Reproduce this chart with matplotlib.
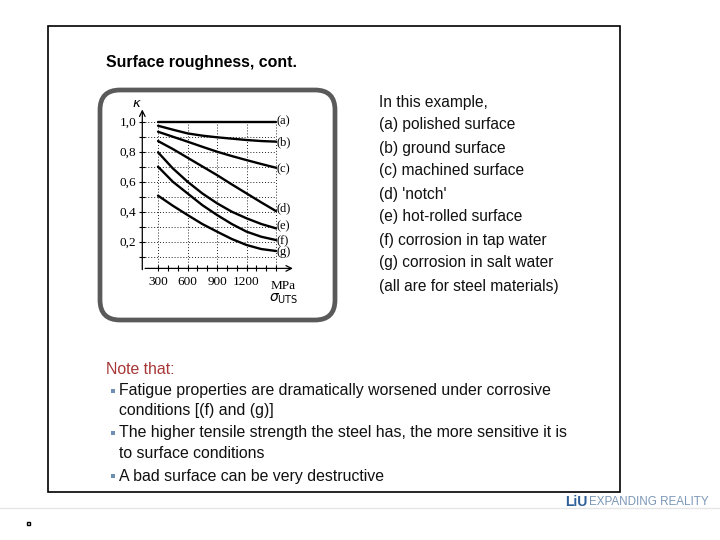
import matplotlib
matplotlib.use("Agg")
import matplotlib.pyplot as plt
from matplotlib.patches import FancyBboxPatch, Rectangle

# sigma_UTS (MPa) and surface factor
sigma = [300, 450, 600, 750, 900, 1050, 1200, 1350, 1500]
kappa_a = [1.0, 1.0, 1.0, 1.0, 1.0, 1.0, 1.0, 1.0, 1.0]
kappa_b = [0.973, 0.947, 0.922, 0.907, 0.896, 0.887, 0.878, 0.871, 0.867]
kappa_c = [0.933, 0.900, 0.867, 0.833, 0.800, 0.771, 0.744, 0.718, 0.693]
kappa_d = [0.871, 0.818, 0.760, 0.702, 0.644, 0.582, 0.522, 0.462, 0.404]
kappa_e = [0.796, 0.689, 0.600, 0.522, 0.456, 0.400, 0.356, 0.318, 0.289]
kappa_f = [0.700, 0.600, 0.522, 0.444, 0.378, 0.318, 0.267, 0.233, 0.211]
kappa_g = [0.507, 0.440, 0.378, 0.318, 0.267, 0.218, 0.178, 0.151, 0.138]
curve_labels = ["(a)", "(b)", "(c)", "(d)", "(e)", "(f)", "(g)"]
label_y = [1.0, 0.86, 0.68, 0.42, 0.30, 0.20, 0.13]

xticks = [300, 600, 900, 1200]
yticks = [0.2, 0.4, 0.6, 0.8, 1.0]
ytick_labels = ["0,2", "0,4", "0,6", "0,8", "1,0"]

legend_lines = ["In this example,", "(a) polished surface", "(b) ground surface",
                "(c) machined surface", "(d) 'notch'", "(e) hot-rolled surface",
                "(f) corrosion in tap water", "(g) corrosion in salt water",
                "(all are for steel materials)"]
note_lines = ["Fatigue properties are dramatically worsened under corrosive",
              "conditions [(f) and (g)]",
              "The higher tensile strength the steel has, the more sensitive it is",
              "to surface conditions",
              "A bad surface can be very destructive"]
note_bullet = [True, False, True, False, True]
note_y = [391, 410, 433, 453, 476]

plt.rcParams['font.family'] = ['Liberation Sans', 'DejaVu Sans']
fig = plt.figure(figsize=(7.2, 5.4), dpi=100)

# page layer in pixel coordinates
bg = fig.add_axes([0, 0, 1, 1])
bg.set_xlim(0, 720)
bg.set_ylim(540, 0)
bg.axis('off')

bg.add_patch(Rectangle((47.5, 26), 572.5, 466, fill=False, lw=1.2, ec='black'))
bg.plot([0, 720], [508, 508], color='#e6e6e6', lw=1)
bg.add_patch(Rectangle((26.5, 521.5), 3.5, 3.5, fill=False, lw=1, ec='black'))
bg.add_patch(FancyBboxPatch((100, 90), 235, 230, boxstyle="round,pad=0,rounding_size=20",
                            fill=False, lw=3.4, ec='#5a5a5a'))

bg.text(106, 62, "Surface roughness, cont.", fontsize=11.4, fontweight='bold',
        va='center', ha='left')
for i, s in enumerate(legend_lines):
    bg.text(379, 102 + 23 * i, s, fontsize=11.2, va='center', ha='left', color='#111111')

bg.text(106, 370, "Note that:", fontsize=11.4, va='center', ha='left', color='#a83838')
for s, b, y in zip(note_lines, note_bullet, note_y):
    if b:
        bg.add_patch(Rectangle((111, y - 1.8), 3.6, 3.6, color='#6f8fb0', lw=0))
    bg.text(119, y, s, fontsize=11.4, va='center', ha='left', color='#111111')

bg.text(565, 502, "LiU", fontsize=10, fontweight='bold', color='#2d5f98',
        va='center', ha='left')
bg.text(589, 502, "EXPANDING REALITY", fontsize=8.4, color='#7b97b8',
        va='center', ha='left')

# the chart
ax = fig.add_axes([142.3 / 720, 1 - 268.4 / 540, 153.4 / 720, 161.7 / 540])
ax.set_xlim(140, 1700)
ax.set_ylim(0.022, 1.1)
ax.patch.set_alpha(0)
for sp in ax.spines.values():
    sp.set_visible(False)

serif = ['Liberation Serif', 'DejaVu Serif']
y0 = 0.022
ax.annotate('', xy=(1700, y0), xytext=(140, y0),
            arrowprops=dict(arrowstyle='->', lw=0.9, color='black'), annotation_clip=False)
ax.annotate('', xy=(140, 1.1), xytext=(140, -0.005),
            arrowprops=dict(arrowstyle='->', lw=0.9, color='black'), annotation_clip=False)

grid_y = [0.1, 0.2, 0.3, 0.4, 0.5, 0.6, 0.7, 0.8, 0.9, 1.0]
grid_x = [300, 600, 900, 1200, 1500]
ax.hlines(grid_y, 140, 1500, colors='#222222', linestyles=(0, (1, 2)), lw=0.7)
ax.vlines(grid_x, y0, 1.0, colors='#222222', linestyles=(0, (1, 2)), lw=0.7)

ax.set_xticks(xticks)
ax.set_xticklabels(xticks, fontfamily=serif, fontsize=9.5)
ax.set_xticks(range(300, 1600, 100), minor=True)
ax.set_yticks(yticks)
ax.set_yticklabels(ytick_labels, fontfamily=serif, fontsize=9.5)
ax.set_yticks(grid_y, minor=True)
ax.tick_params(which='both', direction='inout', length=5, width=0.8, pad=2)
ax.tick_params(axis='x', pad=3)

series = [kappa_a, kappa_b, kappa_c, kappa_d, kappa_e, kappa_f, kappa_g]
for k, lab, ly in zip(series, curve_labels, label_y):
    ax.plot(sigma, k, color='black', lw=1.7, solid_capstyle='round')
    ax.text(1505, ly, lab, fontfamily=serif, fontsize=9, va='center', ha='left')

ax.text(1575, y0 - 0.115, "MPa", fontfamily=serif, fontsize=9.5, va='center', ha='center')
ax.text(1575, y0 - 0.2, r"$\sigma_{\mathrm{UTS}}$", fontsize=10, va='center', ha='center')
ax.text(80, 1.12, r"$\kappa$", fontsize=9.5, va='center', ha='center')

fig.savefig("out.png", dpi=100)
